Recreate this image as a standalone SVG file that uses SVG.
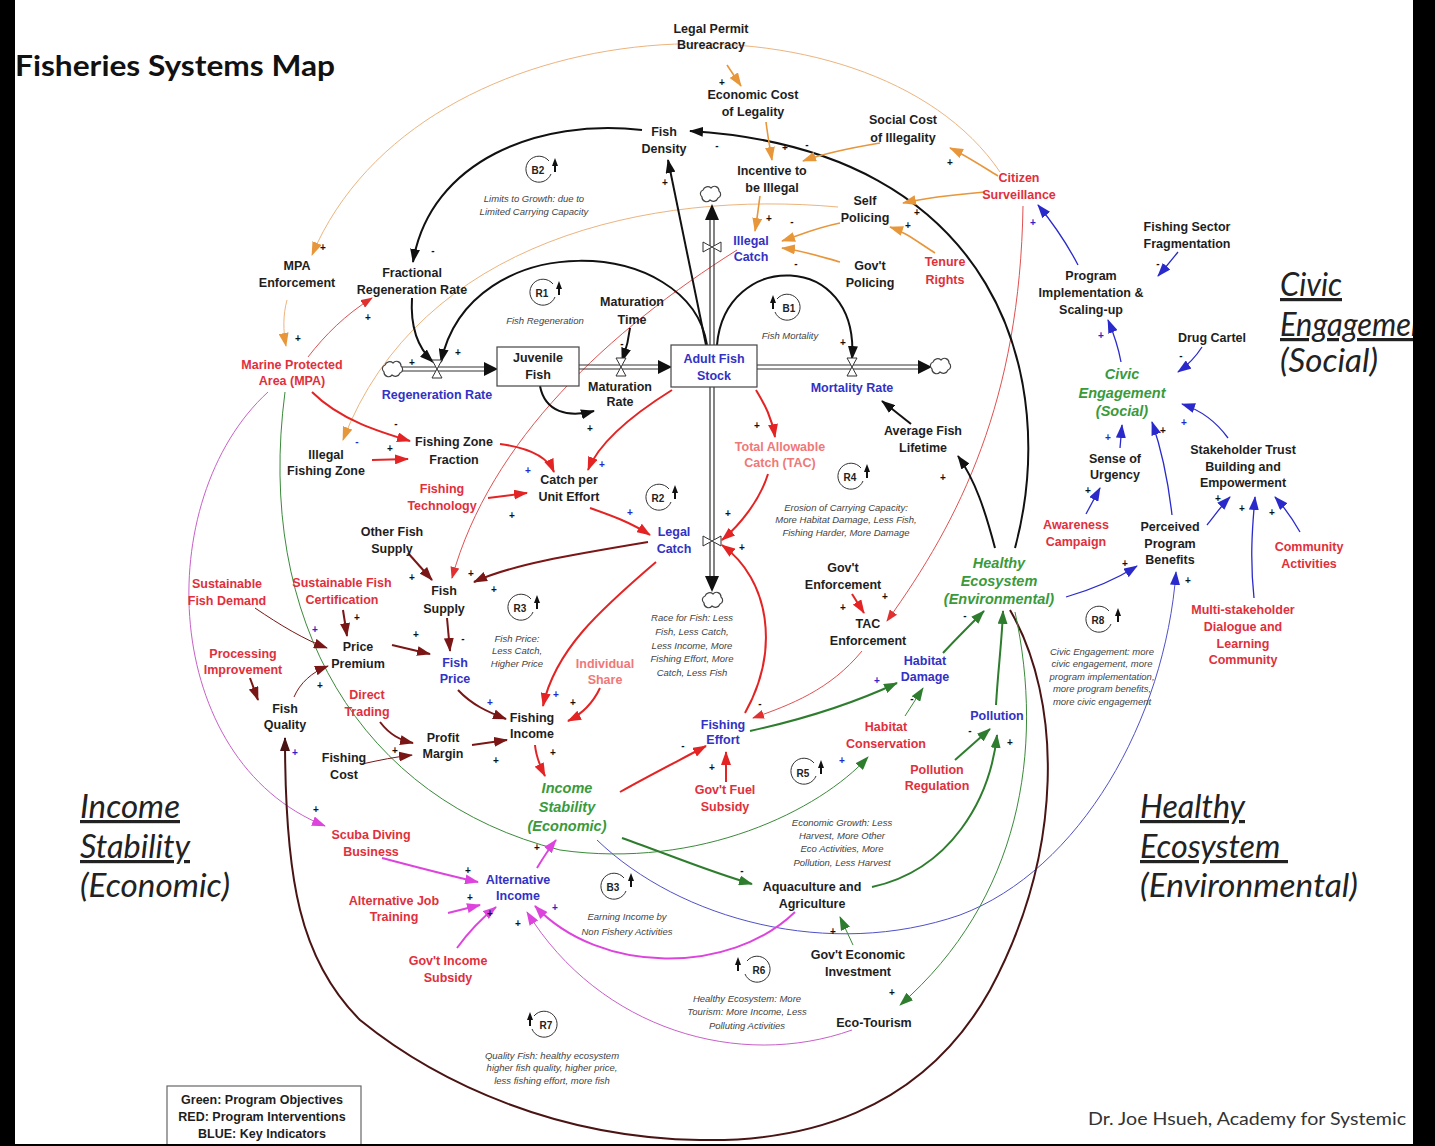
<svg xmlns="http://www.w3.org/2000/svg" width="1435" height="1146" viewBox="0 0 1435 1146">
<style>
.n{font-family:"Liberation Sans",Arial,sans-serif;font-weight:bold;font-size:12.5px;text-anchor:middle;fill:#1e1e1e}
.r{fill:#e0303c}.rl{fill:#f07878}.b{fill:#3232c4}
.g{fill:#3a9a3a;font-style:italic;font-size:14.5px}
.note{font-family:"Liberation Sans",Arial,sans-serif;font-style:italic;font-size:9.5px;fill:#444;text-anchor:middle}
.pol{font-family:"Liberation Sans",Arial,sans-serif;font-weight:bold;font-size:10px;text-anchor:middle;fill:#111}
.pb{fill:#2828c8}
.sec{font-family:Lato,"Open Sans",sans-serif;font-style:italic;font-size:32px;fill:#222}
.lp{font-family:"Liberation Sans",Arial,sans-serif;font-weight:bold;font-size:10px;text-anchor:middle;fill:#222}
.c{fill:none}
.k{stroke:#111;stroke-width:2;marker-end:url(#mk)}
.rd{stroke:#e42424;stroke-width:2;marker-end:url(#mr)}
.rt{stroke:#e05050;stroke-width:1;marker-end:url(#mrt)}
.dr{stroke:#7a1616;stroke-width:2;marker-end:url(#md)}
.drt{stroke:#7a1616;stroke-width:1;marker-end:url(#md)}
.or{stroke:#e8963a;stroke-width:1.6;marker-end:url(#mo)}
.ot{stroke:#ecb47e;stroke-width:1;marker-end:url(#mo)}
.gr{stroke:#2e7d2e;stroke-width:2;marker-end:url(#mg)}
.gt{stroke:#3a8a3a;stroke-width:1;marker-end:url(#mg)}
.bl{stroke:#2a2acc;stroke-width:1.3;marker-end:url(#mb)}
.bt{stroke:#5050c8;stroke-width:1;marker-end:url(#mb)}
.mg{stroke:#dd44dd;stroke-width:2;marker-end:url(#mm)}
.mt{stroke:#c860c8;stroke-width:1;marker-end:url(#mm)}
.mn{stroke:#4a1414;stroke-width:2;marker-end:url(#mn)}
.pipe{stroke:#333;stroke-width:1.2;fill:none}
.valve{fill:#fff;stroke:#333;stroke-width:1}
.cloud{fill:#fff;stroke:#444;stroke-width:1.2}
.loop{fill:none;stroke:#333;stroke-width:1}
</style>
<defs>
<marker id="mk" viewBox="0 0 14 10" refX="13" refY="5" markerWidth="14" markerHeight="10" orient="auto" markerUnits="userSpaceOnUse"><path d="M0,0 L14,5 L0,10 z" fill="#111"/></marker>
<marker id="mr" viewBox="0 0 14 10" refX="13" refY="5" markerWidth="14" markerHeight="10" orient="auto" markerUnits="userSpaceOnUse"><path d="M0,0 L14,5 L0,10 z" fill="#e42424"/></marker>
<marker id="mrt" viewBox="0 0 12 9" refX="11" refY="4.5" markerWidth="12" markerHeight="9" orient="auto" markerUnits="userSpaceOnUse"><path d="M0,0 L12,4.5 L0,9 z" fill="#e03030"/></marker>
<marker id="md" viewBox="0 0 14 10" refX="13" refY="5" markerWidth="14" markerHeight="10" orient="auto" markerUnits="userSpaceOnUse"><path d="M0,0 L14,5 L0,10 z" fill="#7a1616"/></marker>
<marker id="mo" viewBox="0 0 14 10" refX="13" refY="5" markerWidth="14" markerHeight="10" orient="auto" markerUnits="userSpaceOnUse"><path d="M0,0 L14,5 L0,10 z" fill="#e8963a"/></marker>
<marker id="mg" viewBox="0 0 14 10" refX="13" refY="5" markerWidth="14" markerHeight="10" orient="auto" markerUnits="userSpaceOnUse"><path d="M0,0 L14,5 L0,10 z" fill="#2e7d2e"/></marker>
<marker id="mb" viewBox="0 0 14 10" refX="13" refY="5" markerWidth="14" markerHeight="10" orient="auto" markerUnits="userSpaceOnUse"><path d="M0,0 L14,5 L0,10 z" fill="#2a2acc"/></marker>
<marker id="mm" viewBox="0 0 14 10" refX="13" refY="5" markerWidth="14" markerHeight="10" orient="auto" markerUnits="userSpaceOnUse"><path d="M0,0 L14,5 L0,10 z" fill="#dd44dd"/></marker>
<marker id="mn" viewBox="0 0 14 10" refX="13" refY="5" markerWidth="14" markerHeight="10" orient="auto" markerUnits="userSpaceOnUse"><path d="M0,0 L14,5 L0,10 z" fill="#4a1414"/></marker>
<path id="cloudshape" d="M-9,3 a4,4 0 0 1 1,-7 a5,5 0 0 1 8,-2 a4.5,4.5 0 0 1 8,3 a4,4 0 0 1 -1,7 a5,5 0 0 1 -8,2 a4.5,4.5 0 0 1 -8,-3 z"/>
</defs>
<rect x="0" y="0" width="1435" height="1146" fill="#fff"/>

<!-- titles and section labels -->
<text x="15" y="76" font-family="Lato,'Open Sans',sans-serif" font-weight="bold" font-size="29" fill="#111" textLength="320" lengthAdjust="spacingAndGlyphs">Fisheries Systems Map</text>
<text class="sec" x="80" y="818" text-decoration="underline" textLength="100" lengthAdjust="spacingAndGlyphs">Income</text>
<text class="sec" x="80" y="858" text-decoration="underline" textLength="110" lengthAdjust="spacingAndGlyphs">Stability</text>
<text class="sec" x="80" y="897" textLength="150" lengthAdjust="spacingAndGlyphs">(Economic)</text>
<text class="sec" x="1140" y="818" text-decoration="underline" textLength="105" lengthAdjust="spacingAndGlyphs">Healthy</text>
<text class="sec" x="1140" y="858" text-decoration="underline" xml:space="preserve" textLength="148" lengthAdjust="spacingAndGlyphs">Ecosystem </text>
<text class="sec" x="1140" y="897" textLength="218" lengthAdjust="spacingAndGlyphs">(Environmental)</text>
<text class="sec" x="1280" y="296" text-decoration="underline" textLength="62" lengthAdjust="spacingAndGlyphs">Civic</text>
<text class="sec" x="1280" y="336" text-decoration="underline" textLength="158" lengthAdjust="spacingAndGlyphs">Engagement</text>
<text class="sec" x="1280" y="372" textLength="98" lengthAdjust="spacingAndGlyphs">(Social)</text>
<text x="1088" y="1125" font-family="Lato,'Open Sans',sans-serif" font-size="18" fill="#333" textLength="318" lengthAdjust="spacingAndGlyphs">Dr. Joe Hsueh, Academy for Systemic</text>

<!-- connectors -->
<g id="connectors" class="c">
<path class="ot" d="M1000 172 C870 -20 420 0 312 255"/>
<path class="ot" d="M838 207 C650 190 420 240 343 440"/>
<path class="mt" d="M268 392 C150 500 160 760 325 826"/>
<path class="gt" d="M285 392 C255 620 360 800 560 850 C700 870 820 810 868 757"/>
<path class="bt" d="M597 840 C680 920 830 960 960 915 C1080 870 1165 720 1176 572"/>
<path class="mn" d="M1010 610 C1062 700 1065 850 990 990 C920 1115 800 1142 700 1140 C560 1138 440 1085 360 1020 C300 960 285 880 285 738"/>
<path class="gt" d="M1015 612 C1045 750 1020 900 900 1005"/>
<path class="rt" d="M1023 206 C1020 400 960 520 887 621"/>
<path class="rt" stroke="#b85050" d="M737 250 C610 330 490 440 452 578"/>
<path class="k" d="M706 345 L668 160"/>
<path class="k" d="M642 130 C540 118 430 160 413 262"/>
<path class="k" d="M1015 548 C1060 380 1000 150 690 131"/>
<path class="k" d="M707 345 C690 235 470 225 441 362"/>
<path class="k" d="M412 298 C410 330 420 350 433 362"/>
<path class="k" d="M717 345 C725 250 860 250 852 359"/>
<path class="k" d="M630 328 C628 345 625 352 622 361"/>
<path class="k" d="M540 386 C545 412 568 418 594 411"/>
<path class="k" d="M911 424 L882 401"/>
<path class="k" d="M995 548 C985 510 975 480 958 456"/>
<path class="rd" d="M312 392 C340 420 380 432 410 441"/>
<path class="rd" d="M372 460 L408 459"/>
<path class="rd" d="M500 444 C530 448 548 458 554 472"/>
<path class="rd" d="M488 498 L527 493"/>
<path class="rd" d="M672 390 C640 410 600 440 588 470"/>
<path class="rd" d="M590 508 C610 515 630 522 650 535"/>
<path class="rd" d="M756 390 C765 405 772 418 775 437"/>
<path class="rd" d="M768 474 C760 500 740 525 722 540"/>
<path class="rd" d="M745 713 C780 650 770 580 722 545"/>
<path class="rd" d="M656 562 C600 610 555 650 543 706"/>
<path class="rd" d="M600 688 C592 705 580 715 568 721"/>
<path class="rd" d="M535 745 C536 757 540 766 545 776"/>
<path class="rd" d="M620 792 C650 775 680 760 706 746"/>
<path class="rd" d="M726 782 L726 752"/>
<path class="rd" d="M852 594 L864 613"/>
<path class="rt" d="M862 651 C830 690 790 705 753 718"/>
<path class="rt" d="M308 357 C325 335 345 315 372 298"/>
<path class="dr" d="M648 542 C570 555 510 565 474 582"/>
<path class="dr" d="M458 690 C472 705 488 712 506 719"/>
<path class="dr" d="M472 745 L507 740"/>
<path class="dr" d="M408 553 L432 580"/>
<path class="dr" d="M447 618 L450 651"/>
<path class="dr" d="M392 645 L430 654"/>
<path class="dr" d="M343 610 L347 636"/>
<path class="drt" d="M255 608 C280 625 305 640 327 648"/>
<path class="dr" d="M250 678 L258 700"/>
<path class="drt" d="M294 697 C300 683 312 672 328 666"/>
<path class="dr" d="M380 722 C390 735 400 740 413 743"/>
<path class="drt" d="M362 764 C380 760 395 757 412 755"/>
<path class="or" d="M727 65 L741 86"/>
<path class="or" d="M766 122 C768 138 770 148 772 160"/>
<path class="or" d="M880 143 C850 148 825 153 803 161"/>
<path class="or" d="M760 196 C758 210 757 220 755 231"/>
<path class="or" d="M840 223 C815 228 800 235 782 241"/>
<path class="or" d="M840 262 C815 255 800 250 782 248"/>
<path class="or" d="M935 253 C915 240 905 232 890 227"/>
<path class="or" d="M998 176 C980 165 965 155 950 148"/>
<path class="or" d="M985 192 C950 195 925 198 903 203"/>
<path class="ot" d="M287 300 C283 315 283 330 286 346"/>
<path class="gr" d="M622 838 C670 855 710 872 752 884"/>
<path class="gr" d="M872 887 C950 870 990 800 997 735"/>
<path class="gr" d="M996 705 C998 670 1002 640 1003 611"/>
<path class="gr" stroke-width="1.3" d="M943 653 C955 640 970 625 984 611"/>
<path class="gr" d="M750 731 C800 720 850 705 897 683"/>
<path class="gt" d="M905 716 L923 688"/>
<path class="gr" d="M955 760 L990 729"/>
<path class="gt" d="M853 945 L840 917"/>
<path class="bl" d="M1066 597 C1090 590 1115 580 1137 566"/>
<path class="bl" d="M1172 515 C1168 480 1160 445 1152 422"/>
<path class="bl" d="M1120 448 L1122 425"/>
<path class="bl" d="M1086 514 L1100 488"/>
<path class="bl" d="M1228 438 C1215 420 1200 410 1182 404"/>
<path class="bl" d="M1207 525 C1215 515 1222 505 1230 497"/>
<path class="bl" d="M1254 598 C1250 560 1252 530 1255 497"/>
<path class="bl" d="M1300 532 C1292 518 1285 508 1275 497"/>
<path class="bl" d="M1121 362 C1118 345 1113 332 1108 320"/>
<path class="bl" d="M1178 252 C1170 262 1165 268 1158 276"/>
<path class="bl" d="M1202 347 C1195 358 1188 365 1178 372"/>
<path class="bl" d="M1078 265 C1065 240 1052 222 1038 205"/>
<path class="mg" d="M382 858 C420 868 450 876 478 882"/>
<path class="mg" d="M448 913 C460 910 468 908 480 905"/>
<path class="mg" d="M457 948 C470 930 482 918 496 907"/>
<path class="mg" d="M537 868 C543 858 548 850 556 840"/>
<path class="mg" d="M795 912 C730 975 600 975 535 906"/>
<path class="mt" d="M852 1030 C740 1070 600 1030 527 912"/>
</g>

<!-- stock and flow pipes -->
<g id="flows">
<path class="pipe" d="M402 367 H484 M402 371 H484"/>
<polygon points="484,362 498,369 484,376" fill="#111"/>
<path class="pipe" d="M579 365 H658 M579 369 H658"/>
<polygon points="658,360 672,367 658,374" fill="#111"/>
<path class="pipe" d="M757 365 H918 M757 369 H918"/>
<polygon points="918,360 932,367 918,374" fill="#111"/>
<path class="pipe" d="M710 345 V220 M714 345 V220"/>
<polygon points="705,220 712,204 719,220" fill="#111"/>
<path class="pipe" d="M710 387 V576 M714 387 V576"/>
<polygon points="705,576 712,592 719,576" fill="#111"/>
<use href="#cloudshape" class="cloud" transform="translate(393,369)"/>
<use href="#cloudshape" class="cloud" transform="translate(941,366)"/>
<use href="#cloudshape" class="cloud" transform="translate(711,194)"/>
<use href="#cloudshape" class="cloud" transform="translate(713,600)"/>
<polygon class="valve" points="432,360 442,360 432,378 442,378"/>
<polygon class="valve" points="616,358 626,358 616,376 626,376"/>
<polygon class="valve" points="847,358 857,358 847,376 857,376"/>
<polygon class="valve" points="703,242 703,252 721,242 721,252"/>
<polygon class="valve" points="703,536 703,546 721,536 721,546"/>
</g>

<!-- loop markers -->
<g id="loops">
<g id="loop-b2"><path class="loop" d="M549 161 A13 13 0 1 0 551 174"/><text class="lp" x="538" y="174">B2</text><path d="M555 158 l3 8 h-2 v6 h-2 v-6 h-2 z" fill="#111"/></g>
<g id="loop-r1"><path class="loop" d="M553 284 A13 13 0 1 0 555 297"/><text class="lp" x="542" y="297">R1</text><path d="M559 281 l3 8 h-2 v6 h-2 v-6 h-2 z" fill="#111"/></g>
<g id="loop-b1"><path class="loop" d="M777 299 A13 13 0 1 1 775 312"/><text class="lp" x="789" y="312">B1</text><path d="M773 295 l3 8 h-2 v6 h-2 v-6 h-2 z" fill="#111"/></g>
<g id="loop-r2"><path class="loop" d="M669 489 A13 13 0 1 0 671 502"/><text class="lp" x="658" y="502">R2</text><path d="M675 485 l3 8 h-2 v6 h-2 v-6 h-2 z" fill="#111"/></g>
<g id="loop-r4"><path class="loop" d="M861 468 A13 13 0 1 0 863 481"/><text class="lp" x="850" y="481">R4</text><path d="M867 464 l3 8 h-2 v6 h-2 v-6 h-2 z" fill="#111"/></g>
<g id="loop-r3"><path class="loop" d="M531 599 A13 13 0 1 0 533 612"/><text class="lp" x="520" y="612">R3</text><path d="M537 595 l3 8 h-2 v6 h-2 v-6 h-2 z" fill="#111"/></g>
<g id="loop-r8"><path class="loop" d="M1109 611 A13 13 0 1 0 1111 624"/><text class="lp" x="1098" y="624">R8</text><path d="M1118 608 l3 8 h-2 v6 h-2 v-6 h-2 z" fill="#111"/></g>
<g id="loop-r5"><path class="loop" d="M814 763 A13 13 0 1 0 816 776"/><text class="lp" x="803" y="777">R5</text><path d="M821 760 l3 8 h-2 v6 h-2 v-6 h-2 z" fill="#111"/></g>
<g id="loop-b3"><path class="loop" d="M624 878 A13 13 0 1 0 626 891"/><text class="lp" x="613" y="891">B3</text><path d="M631 873 l3 8 h-2 v6 h-2 v-6 h-2 z" fill="#111"/></g>
<g id="loop-r6"><path class="loop" d="M747 961 A13 13 0 1 1 745 974"/><text class="lp" x="759" y="974">R6</text><path d="M738 957 l3 8 h-2 v6 h-2 v-6 h-2 z" fill="#111"/></g>
<g id="loop-r7"><path class="loop" d="M534 1016 A13 13 0 1 1 532 1029"/><text class="lp" x="546" y="1029">R7</text><path d="M530 1012 l3 8 h-2 v6 h-2 v-6 h-2 z" fill="#111"/></g>
</g>

<!-- notes -->
<g id="notes">
<text class="note" x="534" y="202">Limits to Growth: due to</text>
<text class="note" x="534" y="215">Limited Carrying Capacity</text>
<text class="note" x="545" y="324">Fish Regeneration</text>
<text class="note" x="790" y="339">Fish Mortality</text>
<text class="note" x="846" y="511">Erosion of Carrying Capacity:</text>
<text class="note" x="846" y="523">More Habitat Damage, Less Fish,</text>
<text class="note" x="846" y="536">Fishing Harder, More Damage</text>
<text class="note" x="517" y="642">Fish Price:</text>
<text class="note" x="517" y="654">Less Catch,</text>
<text class="note" x="517" y="667">Higher Price</text>
<text class="note" x="692" y="621">Race for Fish: Less</text>
<text class="note" x="692" y="635">Fish, Less Catch,</text>
<text class="note" x="692" y="649">Less Income, More</text>
<text class="note" x="692" y="662">Fishing Effort, More</text>
<text class="note" x="692" y="676">Catch, Less Fish</text>
<text class="note" x="1102" y="655">Civic Engagement: more</text>
<text class="note" x="1102" y="667">civic engagement, more</text>
<text class="note" x="1102" y="680">program implementation,</text>
<text class="note" x="1102" y="692">more program benefits,</text>
<text class="note" x="1102" y="705">more civic engagement</text>
<text class="note" x="842" y="826">Economic Growth: Less</text>
<text class="note" x="842" y="839">Harvest, More Other</text>
<text class="note" x="842" y="852">Eco Activities, More</text>
<text class="note" x="842" y="866">Pollution, Less Harvest</text>
<text class="note" x="627" y="920">Earning Income by</text>
<text class="note" x="627" y="935">Non Fishery Activities</text>
<text class="note" x="747" y="1002">Healthy Ecosystem: More</text>
<text class="note" x="747" y="1015">Tourism: More Income, Less</text>
<text class="note" x="747" y="1029">Polluting Activities</text>
<text class="note" x="552" y="1059">Quality Fish: healthy ecosystem</text>
<text class="note" x="552" y="1071">higher fish quality, higher price,</text>
<text class="note" x="552" y="1084">less fishing effort, more fish</text>
</g>

<!-- polarity signs -->
<g id="polarities">
<text class="pol" x="722" y="86">+</text><text class="pol" x="785" y="151">+</text><text class="pol" x="807" y="148">-</text>
<text class="pol" x="769" y="222">+</text><text class="pol" x="792" y="225">-</text><text class="pol" x="796" y="267">-</text>
<text class="pol" x="917" y="216">+</text><text class="pol" x="908" y="229">+</text><text class="pol" x="717" y="149">-</text>
<text class="pol" x="665" y="186">+</text><text class="pol" x="622" y="347">-</text><text class="pol" x="843" y="346">+</text>
<text class="pol" x="950" y="166">+</text><text class="pol pb" x="1033" y="226">+</text><text class="pol" x="1158" y="267">-</text>
<text class="pol pb" x="1101" y="339">+</text><text class="pol" x="1181" y="359">-</text>
<text class="pol" x="323" y="251">+</text><text class="pol" x="298" y="342">+</text><text class="pol" x="368" y="321">+</text>
<text class="pol" x="433" y="254">-</text><text class="pol" x="412" y="366">+</text><text class="pol" x="458" y="356">+</text>
<text class="pol" x="396" y="427">-</text><text class="pol" x="390" y="452">+</text><text class="pol pb" x="357" y="445">-</text>
<text class="pol pb" x="528" y="474">+</text><text class="pol" x="512" y="519">+</text><text class="pol" x="412" y="581">+</text>
<text class="pol" x="471" y="577">+</text><text class="pol" x="494" y="593">+</text><text class="pol" x="357" y="621">+</text>
<text class="pol pb" x="315" y="633">+</text><text class="pol" x="416" y="638">+</text><text class="pol" x="463" y="642">-</text>
<text class="pol" x="320" y="689">+</text><text class="pol pb" x="490" y="706">+</text><text class="pol" x="395" y="754">+</text>
<text class="pol" x="496" y="764">+</text><text class="pol pb" x="295" y="756">+</text>
<text class="pol" x="590" y="432">+</text><text class="pol pb" x="602" y="468">+</text><text class="pol pb" x="630" y="516">+</text>
<text class="pol" x="757" y="429">+</text><text class="pol" x="728" y="517">+</text><text class="pol" x="742" y="551">+</text>
<text class="pol pb" x="556" y="698">+</text><text class="pol" x="573" y="706">+</text><text class="pol" x="760" y="707">-</text>
<text class="pol" x="553" y="756">+</text><text class="pol" x="712" y="771">+</text><text class="pol" x="683" y="749">-</text>
<text class="pol" x="843" y="611">+</text><text class="pol" x="885" y="600">+</text><text class="pol" x="965" y="619">-</text>
<text class="pol pb" x="877" y="684">+</text><text class="pol" x="912" y="702">-</text><text class="pol pb" x="842" y="764">+</text>
<text class="pol" x="970" y="734">-</text><text class="pol" x="1010" y="746">+</text><text class="pol" x="943" y="481">+</text>
<text class="pol pb" x="1108" y="441">+</text><text class="pol" x="1163" y="434">+</text><text class="pol pb" x="1184" y="426">+</text>
<text class="pol" x="1088" y="494">+</text><text class="pol" x="1218" y="502">+</text><text class="pol" x="1242" y="512">+</text>
<text class="pol" x="1272" y="516">+</text><text class="pol" x="1125" y="567">+</text><text class="pol" x="1188" y="584">+</text>
<text class="pol" x="537" y="851">+</text><text class="pol" x="742" y="874">-</text><text class="pol pb" x="555" y="911">+</text>
<text class="pol" x="490" y="917">+</text><text class="pol" x="518" y="927">+</text><text class="pol" x="833" y="935">+</text>
<text class="pol" x="892" y="996">+</text><text class="pol" x="316" y="813">+</text><text class="pol" x="468" y="874">+</text>
<text class="pol" x="470" y="901">+</text>
</g>

<!-- nodes -->
<g id="nodes">
<g id="n-legal-permit"><text class="n" x="711" y="33">Legal Permit</text><text class="n" x="711" y="49">Bureacracy</text></g>
<g id="n-econ-cost"><text class="n" x="753" y="99">Economic Cost</text><text class="n" x="753" y="116">of Legality</text></g>
<g id="n-fish-density"><text class="n" x="664" y="136">Fish</text><text class="n" x="664" y="153">Density</text></g>
<g id="n-social-cost"><text class="n" x="903" y="124">Social Cost</text><text class="n" x="903" y="142">of Illegality</text></g>
<g id="n-incentive"><text class="n" x="772" y="175">Incentive to</text><text class="n" x="772" y="192">be Illegal</text></g>
<g id="n-citizen"><text class="n r" x="1019" y="182">Citizen</text><text class="n r" x="1019" y="199">Surveillance</text></g>
<g id="n-self-policing"><text class="n" x="865" y="205">Self</text><text class="n" x="865" y="222">Policing</text></g>
<g id="n-illegal-catch"><text class="n b" x="751" y="245">Illegal</text><text class="n b" x="751" y="261">Catch</text></g>
<g id="n-govt-policing"><text class="n" x="870" y="270">Gov't</text><text class="n" x="870" y="287">Policing</text></g>
<g id="n-tenure"><text class="n r" x="945" y="266">Tenure</text><text class="n r" x="945" y="284">Rights</text></g>
<g id="n-fragmentation"><text class="n" x="1187" y="231">Fishing Sector</text><text class="n" x="1187" y="248">Fragmentation</text></g>
<g id="n-program"><text class="n" x="1091" y="280">Program</text><text class="n" x="1091" y="297">Implementation &amp;</text><text class="n" x="1091" y="314">Scaling-up</text></g>
<g id="n-drug"><text class="n" x="1212" y="342">Drug Cartel</text></g>
<g id="n-civic"><text class="n g" x="1122" y="379">Civic</text><text class="n g" x="1122" y="398">Engagement</text><text class="n g" x="1122" y="416">(Social)</text></g>
<g id="n-mpa-enf"><text class="n" x="297" y="270">MPA</text><text class="n" x="297" y="287">Enforcement</text></g>
<g id="n-frac-regen"><text class="n" x="412" y="277">Fractional</text><text class="n" x="412" y="294">Regeneration Rate</text></g>
<g id="n-mpa"><text class="n r" x="292" y="369">Marine Protected</text><text class="n r" x="292" y="385">Area (MPA)</text></g>
<g id="n-juvenile"><rect x="497" y="347" width="82" height="39" fill="#fff" stroke="#444" stroke-width="1.2"/><text class="n" x="538" y="362">Juvenile</text><text class="n" x="538" y="379">Fish</text></g>
<g id="n-mat-time"><text class="n" x="632" y="306">Maturation</text><text class="n" x="632" y="324">Time</text></g>
<g id="n-adult"><rect x="671" y="345" width="86" height="42" fill="#fff" stroke="#444" stroke-width="1.2"/><text class="n b" x="714" y="363">Adult Fish</text><text class="n b" x="714" y="380">Stock</text></g>
<g id="n-regen-rate"><text class="n b" x="437" y="399">Regeneration Rate</text></g>
<g id="n-mat-rate"><text class="n" x="620" y="391">Maturation</text><text class="n" x="620" y="406">Rate</text></g>
<g id="n-mortality"><text class="n b" x="852" y="392">Mortality Rate</text></g>
<g id="n-avg-life"><text class="n" x="923" y="435">Average Fish</text><text class="n" x="923" y="452">Lifetime</text></g>
<g id="n-tac"><text class="n rl" x="780" y="451">Total Allowable</text><text class="n rl" x="780" y="467">Catch (TAC)</text></g>
<g id="n-illegal-zone"><text class="n" x="326" y="459">Illegal</text><text class="n" x="326" y="475">Fishing Zone</text></g>
<g id="n-zone-fraction"><text class="n" x="454" y="446">Fishing Zone</text><text class="n" x="454" y="464">Fraction</text></g>
<g id="n-cpue"><text class="n" x="569" y="484">Catch per</text><text class="n" x="569" y="501">Unit Effort</text></g>
<g id="n-fish-tech"><text class="n r" x="442" y="493">Fishing</text><text class="n r" x="442" y="510">Technology</text></g>
<g id="n-legal-catch"><text class="n b" x="674" y="536">Legal</text><text class="n b" x="674" y="553">Catch</text></g>
<g id="n-other-supply"><text class="n" x="392" y="536">Other Fish</text><text class="n" x="392" y="553">Supply</text></g>
<g id="n-sust-demand"><text class="n r" x="227" y="588">Sustainable</text><text class="n r" x="227" y="605">Fish Demand</text></g>
<g id="n-sust-cert"><text class="n r" x="342" y="587">Sustainable Fish</text><text class="n r" x="342" y="604">Certification</text></g>
<g id="n-fish-supply"><text class="n" x="444" y="595">Fish</text><text class="n" x="444" y="613">Supply</text></g>
<g id="n-price-premium"><text class="n" x="358" y="651">Price</text><text class="n" x="358" y="668">Premium</text></g>
<g id="n-fish-price"><text class="n b" x="455" y="667">Fish</text><text class="n b" x="455" y="683">Price</text></g>
<g id="n-processing"><text class="n r" x="243" y="658">Processing</text><text class="n r" x="243" y="674">Improvement</text></g>
<g id="n-ind-share"><text class="n rl" x="605" y="668">Individual</text><text class="n rl" x="605" y="684">Share</text></g>
<g id="n-direct"><text class="n r" x="367" y="699">Direct</text><text class="n r" x="367" y="716">Trading</text></g>
<g id="n-fish-quality"><text class="n" x="285" y="713">Fish</text><text class="n" x="285" y="729">Quality</text></g>
<g id="n-fishing-income"><text class="n" x="532" y="722">Fishing</text><text class="n" x="532" y="738">Income</text></g>
<g id="n-profit"><text class="n" x="443" y="742">Profit</text><text class="n" x="443" y="758">Margin</text></g>
<g id="n-fishing-cost"><text class="n" x="344" y="762">Fishing</text><text class="n" x="344" y="779">Cost</text></g>
<g id="n-fishing-effort"><text class="n b" x="723" y="729">Fishing</text><text class="n b" x="723" y="744">Effort</text></g>
<g id="n-govt-enf"><text class="n" x="843" y="572">Gov't</text><text class="n" x="843" y="589">Enforcement</text></g>
<g id="n-tac-enf"><text class="n" x="868" y="628">TAC</text><text class="n" x="868" y="645">Enforcement</text></g>
<g id="n-habitat-damage"><text class="n b" x="925" y="665">Habitat</text><text class="n b" x="925" y="681">Damage</text></g>
<g id="n-habitat-cons"><text class="n r" x="886" y="731">Habitat</text><text class="n r" x="886" y="748">Conservation</text></g>
<g id="n-pollution"><text class="n b" x="997" y="720">Pollution</text></g>
<g id="n-poll-reg"><text class="n r" x="937" y="774">Pollution</text><text class="n r" x="937" y="790">Regulation</text></g>
<g id="n-healthy"><text class="n g" x="999" y="568">Healthy</text><text class="n g" x="999" y="586">Ecosystem</text><text class="n g" x="999" y="604">(Environmental)</text></g>
<g id="n-fuel"><text class="n r" x="725" y="794">Gov't Fuel</text><text class="n r" x="725" y="811">Subsidy</text></g>
<g id="n-income-stab"><text class="n g" x="567" y="793">Income</text><text class="n g" x="567" y="812">Stability</text><text class="n g" x="567" y="831">(Economic)</text></g>
<g id="n-urgency"><text class="n" x="1115" y="463">Sense of</text><text class="n" x="1115" y="479">Urgency</text></g>
<g id="n-stakeholder"><text class="n" x="1243" y="454">Stakeholder Trust</text><text class="n" x="1243" y="471">Building and</text><text class="n" x="1243" y="487">Empowerment</text></g>
<g id="n-awareness"><text class="n r" x="1076" y="529">Awareness</text><text class="n r" x="1076" y="546">Campaign</text></g>
<g id="n-perceived"><text class="n" x="1170" y="531">Perceived</text><text class="n" x="1170" y="548">Program</text><text class="n" x="1170" y="564">Benefits</text></g>
<g id="n-community"><text class="n r" x="1309" y="551">Community</text><text class="n r" x="1309" y="568">Activities</text></g>
<g id="n-multi"><text class="n r" x="1243" y="614">Multi-stakeholder</text><text class="n r" x="1243" y="631">Dialogue and</text><text class="n r" x="1243" y="648">Learning</text><text class="n r" x="1243" y="664">Community</text></g>
<g id="n-scuba"><text class="n r" x="371" y="839">Scuba Diving</text><text class="n r" x="371" y="856">Business</text></g>
<g id="n-alt-income"><text class="n b" x="518" y="884">Alternative</text><text class="n b" x="518" y="900">Income</text></g>
<g id="n-alt-job"><text class="n r" x="394" y="905">Alternative Job</text><text class="n r" x="394" y="921">Training</text></g>
<g id="n-govt-income"><text class="n r" x="448" y="965">Gov't Income</text><text class="n r" x="448" y="982">Subsidy</text></g>
<g id="n-aquaculture"><text class="n" x="812" y="891">Aquaculture and</text><text class="n" x="812" y="908">Agriculture</text></g>
<g id="n-govt-econ"><text class="n" x="858" y="959">Gov't Economic</text><text class="n" x="858" y="976">Investment</text></g>
<g id="n-eco-tourism"><text class="n" x="874" y="1027">Eco-Tourism</text></g>
</g>

<!-- legend -->
<g id="legend">
<rect x="167" y="1086" width="194" height="64" fill="#fff" stroke="#666" stroke-width="1.2"/>
<text class="n" x="262" y="1104" font-size="11.5">Green: Program Objectives</text>
<text class="n" x="262" y="1121" font-size="11.5">RED: Program Interventions</text>
<text class="n" x="262" y="1138" font-size="11.5">BLUE: Key Indicators</text>
</g>

<!-- frame strips -->
<rect x="0" y="0" width="15" height="1146" fill="#000"/>
<rect x="1413" y="0" width="22" height="1146" fill="#000"/>
<rect x="0" y="1144" width="1435" height="2" fill="#000"/>
</svg>
